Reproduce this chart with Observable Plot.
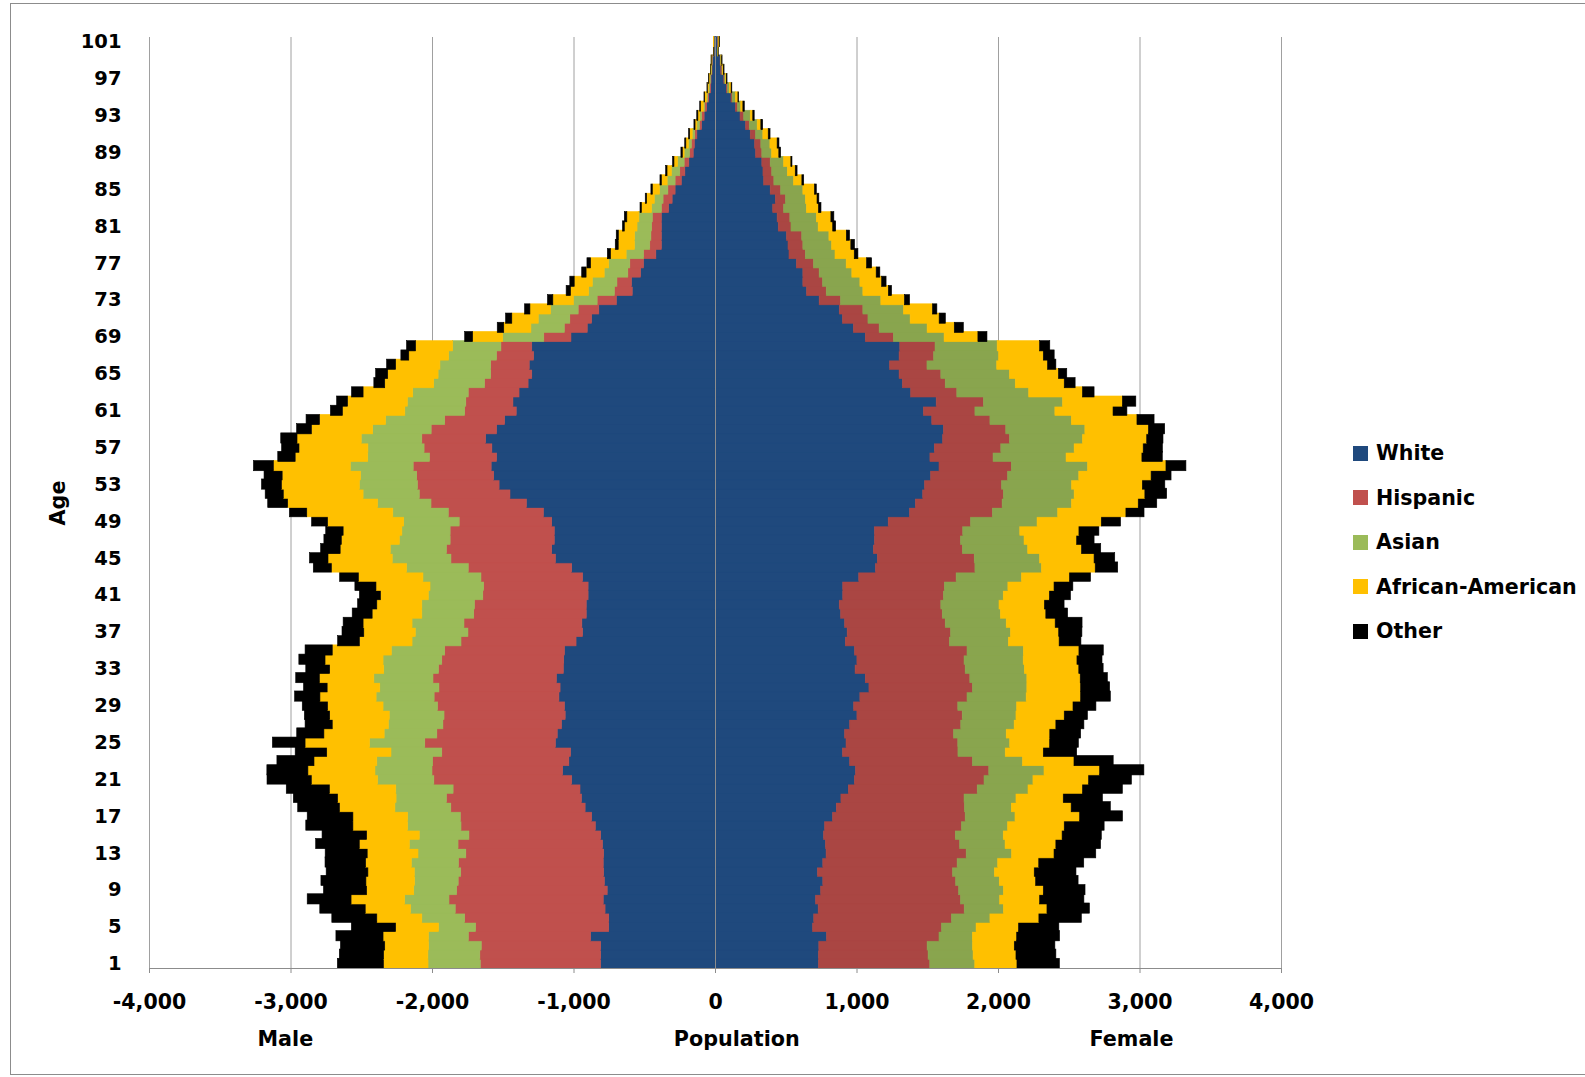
<!DOCTYPE html>
<html>
<head>
<meta charset="utf-8">
<script src="https://cdn.jsdelivr.net/npm/d3@7"></script>
<script src="https://cdn.jsdelivr.net/npm/@observablehq/plot@0.6"></script>
<style>
  html, body { margin: 0; padding: 0; background: #fff; }
  #wrap { position: relative; width: 1585px; height: 1077px; overflow: hidden; font-family: "DejaVu Sans", sans-serif; }
  #border { position: absolute; left: 10px; top: 3px; width: 1600px; height: 1072px; border: 1px solid #8c8c8c; box-sizing: border-box; }
  #chart { position: absolute; left: 0; top: 0; }
  #legend { position: absolute; left: 1353px; top: 431px; font-weight: bold; font-size: 20.6px; color: #000; }
  .item { display: flex; align-items: center; height: 44.5px; white-space: nowrap; }
  .sw { width: 15px; height: 15px; margin-right: 8px; }
</style>
</head>
<body>
<div id="wrap"><div id="border"></div><div id="chart"></div><div id="legend"></div></div>
<script>
// ---------- data (ages 1..101) ----------
const ages = d3.range(1, 102);
const races = ["White", "Hispanic", "Asian", "African-American", "Other"];

const maleWhite = [808,808,808,879,751,751,777,790,762,782,787,790,787,795,808,846,872,918,944,954,1013,1077,1033,1021,1128,1115,1085,1059,1064,1103,1095,1121,1072,1069,1064,982,936,941,910,910,897,897,936,1013,1128,1154,1136,1136,1154,1213,1333,1449,1526,1564,1582,1544,1577,1621,1544,1487,1405,1428,1385,1321,1295,1313,1282,1295,1018,903,872,821,697,585,590,526,505,418,379,379,379,379,328,303,282,238,213,185,154,146,128,95,77,59,44,30,28,21,18,7,6];
const maleHispanic = [851,854,844,864,941,1018,1059,1090,1064,1033,1010,1023,974,1021,931,949,928,949,954,897,974,923,962,910,923,851,838,856,897,882,856,872,882,862,846,813,810,833,795,790,744,738,718,731,738,744,736,736,654,672,674,641,577,544,551,474,479,451,462,423,364,333,359,308,290,272,262,218,192,162,154,146,136,126,103,90,97,87,82,74,69,64,51,64,51,44,36,33,26,21,15,15,18,13,8,8,5,3,3,1,1];
const maleAsian = [369,367,372,282,262,303,315,313,303,308,328,333,338,344,351,377,372,395,356,405,397,403,395,359,390,372,385,387,385,410,418,418,387,415,377,346,372,367,367,372,385,379,410,436,415,397,359,341,392,392,377,397,410,397,444,436,397,428,413,418,423,413,392,359,372,359,338,341,290,236,223,195,167,182,174,167,149,123,108,115,103,95,69,62,59,56,59,46,38,21,18,18,13,10,8,8,5,4,3,1,1];
const maleAfricanAmerican = [315,313,310,321,303,318,321,379,333,344,328,323,359,354,372,387,387,392,413,469,469,474,444,454,456,426,397,421,392,397,372,385,382,410,418,372,364,346,351,318,338,382,456,531,454,354,410,415,538,608,636,564,551,554,544,513,487,454,433,467,441,423,351,346,356,313,282,262,213,192,187,146,146,128,128,128,128,110,115,115,90,85,72,54,51,41,31,26,13,18,18,13,13,21,13,8,5,4,3,2,2];
const maleOther = [326,313,313,333,313,318,321,310,305,318,295,287,297,308,315,333,323,295,313,305,313,290,262,223,231,192,192,179,179,179,167,167,169,185,192,154,154,141,141,136,149,149,133,128,131,138,123,123,113,123,141,128,141,128,141,123,123,115,105,95,85,77,82,77,85,64,56,64,56,46,44,38,38,31,31,31,26,23,21,15,13,18,10,10,10,10,10,10,10,8,8,8,8,5,5,3,2,1,1,1,0];

const femaleWhite = [731,731,734,788,690,698,729,711,747,762,724,762,785,780,767,775,831,857,890,942,985,993,952,901,926,916,952,1003,980,1024,1088,1062,990,1003,986,921,934,916,888,878,903,903,1016,1134,1147,1119,1127,1127,1224,1375,1416,1468,1481,1524,1583,1519,1550,1609,1614,1532,1473,1563,1383,1324,1301,1234,1301,1306,1062,978,901,878,736,647,621,621,575,523,516,505,447,439,408,426,390,344,339,331,287,280,249,216,177,144,113,80,62,41,36,18,18];
const femaleHispanic = [787,775,765,795,911,973,1032,1024,975,939,955,949,990,949,931,967,937,906,870,911,916,942,867,816,790,770,785,744,736,757,731,739,778,757,795,736,731,711,718,718,711,718,688,703,685,629,608,624,582,585,613,570,544,544,511,446,470,472,441,411,364,334,326,303,295,264,244,249,198,182,180,167,151,139,139,115,121,115,105,108,90,90,77,72,74,72,62,59,44,44,38,26,26,15,8,8,5,8,3,1,3];
const femaleAsian = [318,318,321,236,244,272,277,277,316,308,295,287,321,321,339,326,352,331,367,359,346,390,354,334,367,372,377,380,416,418,385,403,418,418,398,416,423,431,411,411,423,449,462,470,462,462,449,403,470,462,490,500,495,503,539,516,518,516,559,575,565,559,508,495,485,493,459,439,359,339,298,287,285,259,264,231,231,210,203,192,192,187,161,141,157,139,110,95,69,64,51,56,46,23,23,13,8,5,3,1,3];
const femaleAfricanAmerican = [298,303,295,313,300,346,308,282,282,257,282,290,300,359,416,400,457,423,334,385,393,393,364,269,282,308,295,341,398,385,380,377,385,380,393,359,341,346,321,321,326,326,339,380,385,380,372,418,454,482,472,500,500,511,554,536,488,454,449,464,411,423,380,346,346,359,316,300,239,192,205,205,167,180,154,172,144,136,136,123,103,103,85,82,82,59,56,51,51,51,38,26,18,15,18,13,5,5,5,2,5];
const femaleOther = [300,282,287,303,285,300,300,313,295,300,295,318,295,316,277,282,303,277,277,282,303,313,277,236,203,218,198,164,162,210,205,192,172,177,172,154,164,190,154,139,149,133,149,159,146,136,123,141,136,128,131,154,159,141,141,144,136,115,115,121,98,95,82,77,59,59,77,72,64,64,44,31,36,23,31,26,36,26,26,23,21,21,18,13,13,13,13,8,13,13,13,13,10,10,5,5,5,5,3,1,3];

const xTicks = [-4000, -3000, -2000, -1000, 0, 1000, 2000, 3000, 4000];
const yTicks = d3.range(1, 102, 4);
const maleColors = ["#1F497D", "#C0504D", "#9BBB59", "#FFC000", "#000000"];
const femaleColors = ["#1F497D", "#AA4643", "#89A54E", "#FFC000", "#000000"];
const axisTitles = [{label: "Male", at: -3040}, {label: "Population", at: 150}, {label: "Female", at: 2940}];

// ---------- table ----------
const maleSeries = [maleWhite, maleHispanic, maleAsian, maleAfricanAmerican, maleOther];
const femaleSeries = [femaleWhite, femaleHispanic, femaleAsian, femaleAfricanAmerican, femaleOther];
const rows = [];
ages.forEach((age, i) => {
  races.forEach((race, j) => rows.push({age, key: "M-" + race, value: -maleSeries[j][i], color: maleColors[j]}));
  races.forEach((race, j) => rows.push({age, key: "F-" + race, value: femaleSeries[j][i], color: femaleColors[j]}));
});

const fmt = d => d.toLocaleString("en-US");

const chart = Plot.plot({
  width: 1585,
  height: 1077,
  marginLeft: 149,
  marginRight: 304,
  marginTop: 37,
  marginBottom: 109,
  style: {fontFamily: "DejaVu Sans, sans-serif", fontWeight: "bold", color: "#000", background: "transparent"},
  x: {domain: [-4000, 4000], label: null},
  y: {domain: ages.slice().reverse(), padding: 0, round: false, label: null},
  color: {type: "identity"},
  marks: [
    Plot.gridX(xTicks, {stroke: "#a0a0a0", strokeOpacity: 1, strokeWidth: 1}),
    Plot.barX(rows, Plot.stackX({x: "value", y: "age", z: "key", fill: "color", stroke: "color", strokeWidth: 0.6, insetTop: -0.5, insetBottom: -0.5})),
    Plot.ruleX([0], {stroke: "#8c8c8c", strokeWidth: 1}),
    Plot.frame({anchor: "bottom", stroke: "#8c8c8c"}),
    Plot.axisX(xTicks, {tickFormat: fmt, tickSize: 5, tickPadding: 21, fontSize: 20.5, label: null, stroke: "#8c8c8c"}),
    Plot.axisY(yTicks, {tickSize: 0, tickPadding: 28, fontSize: 19.5, label: null}),
    Plot.text(axisTitles, {x: "at", text: "label", frameAnchor: "bottom", lineAnchor: "middle", dy: 71, fontSize: 20.7, fontWeight: "bold", fill: "#000"}),
    Plot.text(["Age"], {text: d => d, frameAnchor: "left", textAnchor: "middle", lineAnchor: "middle", dx: -91, rotate: -90, fontSize: 20.7, fontWeight: "bold", fill: "#000"})
  ]
});
document.getElementById("chart").appendChild(chart);

// ---------- legend ----------
const legend = document.getElementById("legend");
races.forEach((race, j) => {
  const item = document.createElement("div");
  item.className = "item";
  const sw = document.createElement("div");
  sw.className = "sw";
  sw.style.background = maleColors[j];
  const label = document.createElement("span");
  label.textContent = race;
  item.appendChild(sw);
  item.appendChild(label);
  legend.appendChild(item);
});
</script>
</body>
</html>
